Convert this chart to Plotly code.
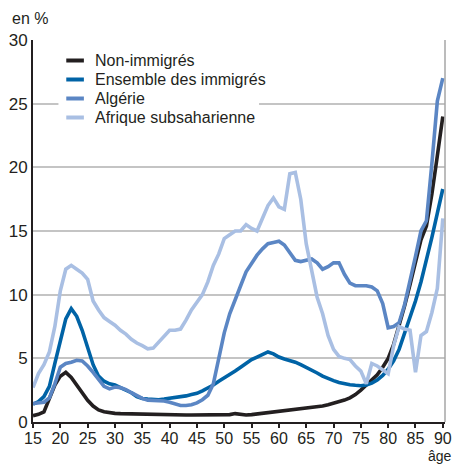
import plotly.graph_objects as go

# Ages (years) and rates (%) per group
ages = list(range(15, 91))

non_immigres = [
    0.5, 0.6, 0.8, 1.9, 2.9, 3.6, 3.9, 3.5, 2.9, 2.2,
    1.7, 1.25, 0.95, 0.8, 0.72, 0.68, 0.66, 0.65, 0.63, 0.6,
    0.56, 0.55, 0.55, 0.55, 0.55, 0.55, 0.55, 0.55, 0.55, 0.55,
    0.55, 0.55, 0.55, 0.55, 0.56, 0.56, 0.58, 0.66, 0.6, 0.55,
    0.58, 0.63, 0.7, 0.76, 0.8, 0.85, 0.88, 0.92, 0.96, 1.0,
    1.05, 1.1, 1.18, 1.25, 1.35, 1.47, 1.58, 1.72, 1.9, 2.15,
    2.5, 2.9, 3.25, 3.7, 4.3, 5.0, 6.1, 7.5, 9.1, 10.8,
    12.6, 14.3, 15.4, 17.9, 20.9, 24.0,
]

ensemble_immigres = [
    1.4, 1.6, 2.0, 2.8, 4.6, 6.4, 8.1, 8.9, 8.3, 7.2,
    5.9, 4.5, 3.6, 3.2, 3.0, 2.9, 2.7, 2.5, 2.3, 2.0,
    1.85, 1.8, 1.75, 1.75, 1.8, 1.85, 1.9, 2.0, 2.05, 2.15,
    2.25, 2.45, 2.65, 2.9, 3.2, 3.45, 3.75, 4.0, 4.3, 4.6,
    4.9, 5.1, 5.3, 5.5, 5.35, 5.1, 4.95, 4.85, 4.7, 4.5,
    4.3, 4.1, 3.85, 3.6, 3.4, 3.25, 3.1, 3.0, 2.92, 2.88,
    2.85, 2.9, 3.05, 3.3, 3.65, 4.15, 4.8, 5.7, 6.9, 8.2,
    9.5, 11.0, 12.7, 14.5, 16.4, 18.3,
]

algerie = [
    1.45, 1.5, 1.55, 1.9, 3.0, 4.3, 4.6, 4.7, 4.85, 4.8,
    4.4, 3.9, 3.3, 2.8, 2.6, 2.75, 2.7, 2.55, 2.3, 2.05,
    1.85, 1.72, 1.7, 1.7, 1.65, 1.55, 1.4, 1.3, 1.3, 1.35,
    1.5, 1.75, 2.1, 3.0, 5.0, 7.0, 8.5, 9.7, 10.7, 11.8,
    12.5, 13.1, 13.6, 14.0, 14.1, 14.2, 13.9, 13.3, 12.7, 12.6,
    12.7, 12.8, 12.5, 12.0, 12.2, 12.5, 12.5, 11.6, 10.9, 10.7,
    10.7, 10.7, 10.6, 10.3, 9.3, 7.4, 7.5, 7.8, 9.2, 11.0,
    13.0, 15.0, 15.8, 20.3, 25.2, 27.0,
]

afrique_subsaharienne = [
    2.7, 3.8, 4.5, 5.5, 7.5, 10.3, 12.0, 12.3, 12.0, 11.7,
    11.2, 9.5, 8.8, 8.2, 7.9, 7.6, 7.2, 6.9, 6.5, 6.2,
    6.0, 5.75, 5.8, 6.3, 6.8, 7.2, 7.2, 7.3, 8.0, 8.8,
    9.4, 10.0, 11.0, 12.3, 13.2, 14.4, 14.7, 15.0, 15.0, 15.5,
    15.2, 15.0, 16.0, 17.0, 17.6, 16.9, 16.7, 19.5, 19.6, 17.5,
    14.0, 12.0, 9.8, 8.5, 6.8, 5.7, 5.15, 5.0, 4.9, 4.4,
    4.0, 3.0, 4.6, 4.4, 4.1, 3.8, 6.0, 7.5, 7.3, 7.2,
    3.9, 6.8, 7.1, 8.6, 10.5, 16.0,
]

series = [
    ("Non-immigrés", non_immigres, "#231f20"),
    ("Ensemble des immigrés", ensemble_immigres, "#0063a6"),
    ("Algérie", algerie, "#5b86c4"),
    ("Afrique subsaharienne", afrique_subsaharienne, "#a9bfe3"),
]

FONT = "Liberation Sans, Arial, sans-serif"
TEXT = "#231f20"

fig = go.Figure()
for name, values, color in series:
    fig.add_trace(go.Scatter(
        x=ages, y=values, name=name, mode="lines",
        line=dict(color=color, width=3.6),
        showlegend=False,
    ))

# Hand-drawn legend on a white panel in the upper-left of the plot
PW, PH = 421.0, 382.0  # plot area in px (used to place the legend in paper units)
fig.add_shape(type="rect", xref="paper", yref="paper",
              x0=(57 - 31) / PW, x1=(262 - 31) / PW,
              y0=1 - (130 - 40) / PH, y1=1 - (47 - 40) / PH,
              fillcolor="white", line=dict(width=0), layer="above")
row_px = [60.5, 79.5, 98.5, 117.5]
for (name, _, color), ypx in zip(series, row_px):
    yp = 1 - (ypx - 40) / PH
    fig.add_shape(type="line", xref="paper", yref="paper",
                  x0=(65 - 31) / PW, x1=(83 - 31) / PW, y0=yp, y1=yp,
                  line=dict(color=color, width=4), layer="above")
    fig.add_annotation(xref="paper", yref="paper", x=(92 - 31) / PW, y=yp,
                       text=name, showarrow=False, xanchor="left", yanchor="middle",
                       font=dict(family=FONT, size=16, color=TEXT))

# Grey frame on the right side
fig.add_shape(type="line", xref="paper", yref="paper", x0=1, x1=1, y0=0, y1=1,
              line=dict(color="#a6a6a6", width=1.5))

fig.add_annotation(xref="paper", yref="paper", x=-23 / PW, y=1 + 22 / PH,
                   text="en %", showarrow=False, xanchor="left", yanchor="middle",
                   font=dict(family=FONT, size=16, color=TEXT))
fig.add_annotation(xref="paper", yref="paper", x=1 + 8 / PW, y=-42.5 / PH,
                   text="âge", showarrow=False, xanchor="right", yanchor="bottom",
                   borderpad=0, font=dict(family=FONT, size=14, color=TEXT))

fig.update_layout(
    width=461, height=465,
    margin=dict(l=31, r=9, t=40, b=43),
    paper_bgcolor="white", plot_bgcolor="white",
    font=dict(family=FONT, size=16, color=TEXT),
    xaxis=dict(
        range=[15, 90.4], tickvals=list(range(15, 91, 5)),
        ticks="outside", ticklen=4, tickwidth=1.5, tickcolor="#231f20",
        showline=True, linecolor="#231f20", linewidth=2,
        showgrid=False, zeroline=False, ticklabelstandoff=-3,
        tickfont=dict(family=FONT, size=16, color=TEXT),
    ),
    yaxis=dict(
        range=[0, 30], dtick=5,
        showgrid=True, gridcolor="#c4c4c4", gridwidth=1.5,
        showline=True, linecolor="#231f20", linewidth=2,
        zeroline=False, ticks="",
        tickfont=dict(family=FONT, size=17, color=TEXT),
    ),
)

fig.write_html("out.html")
